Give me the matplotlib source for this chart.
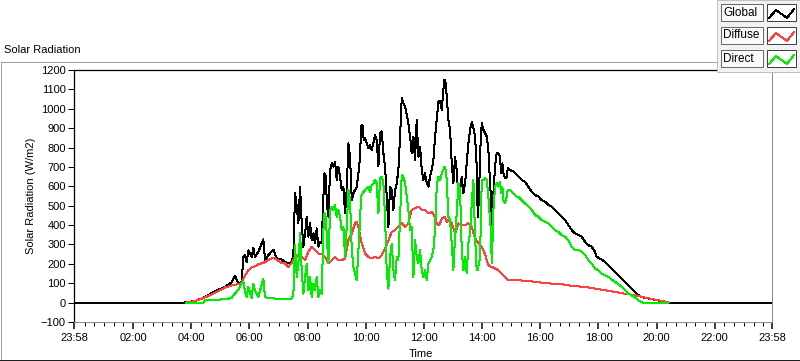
import matplotlib
matplotlib.use("Agg")
import matplotlib.pyplot as plt
from matplotlib.lines import Line2D
from matplotlib.patches import Rectangle

plt.rcParams["font.family"] = ["Liberation Sans", "DejaVu Sans"]
plt.rcParams["font.size"] = 8

# time in minutes after midnight, values in W/m2
t_global = [-2, 225, 247.6, 268.3, 288.9, 309.5, 323.3, 330.2, 337.0, 343.9, 347.4, 350.8, 354.2, 357.7,
            364.6, 368.0, 371.4, 378.3, 388.6, 392.1, 399.0, 409.3, 416.1, 426.5,
            433.4, 440.3, 447.2, 450.6, 454.0, 457.5, 460.9, 464.4, 467.8, 471.2, 474.7, 478.1, 481.5,
            485.0, 488.4, 491.9, 495.3, 498.7, 502.2, 505.6, 509.1, 512.5, 514.6, 517.3, 520.1, 522.8,
            526.3, 529.7, 533.1, 536.6, 540.0, 543.4, 546.9, 550.3, 553.8, 557.2, 560.6, 564.1, 567.5,
            571.0, 574.4, 577.8, 581.3, 584.7, 588.2, 590.2, 593.0, 595.7, 598.5, 601.9, 605.4, 608.8,
            612.2, 615.7, 619.1, 622.5, 626.0, 629.4, 632.9, 636.3,
            639.7, 643.1, 646.6, 650.0, 653.5, 656.9, 660.3, 663.8, 667.2, 670.7, 674.1, 677.5, 681.0,
            684.4, 687.8, 691.3, 694.7, 698.2, 701.6, 705.0, 708.5, 711.9, 715.4, 718.8, 722.2, 725.7,
            729.1, 732.6, 736.0, 739.4, 742.9, 746.3, 749.7, 753.2, 756.6, 760.1, 762.1, 764.9, 766.9,
            770.4, 773.8, 777.3, 780.7, 784.1, 787.6, 791.0, 794.5, 797.9, 801.3, 804.8, 808.2, 811.6,
            815.1, 818.5, 822.0, 825.4, 828.8, 830.9, 833.7, 835.7, 839.2, 842.6,
            846.0, 849.4, 852.9, 856.3, 858.4, 859.8, 861.1, 863.2, 866.6, 870.1, 873.5, 877.0, 879.0,
            881.8, 883.8, 887.3, 890.7, 892.8, 897.6, 904.5, 911.3, 914.8, 921.7, 928.5, 935.4, 942.3,
            949.2, 956.0, 962.9, 969.8, 976.7, 983.6, 990.4, 997.3, 1004.2, 1011.1, 1018.0, 1024.8,
            1031.7, 1038.6, 1045.5, 1052.3, 1059.2, 1066.1, 1072.9, 1076.4, 1083.3, 1093.6, 1100.4,
            1107.3, 1114.2, 1121.1, 1128.0, 1134.8, 1141.7, 1148.6, 1155.5, 1162.4, 1169.2, 1183.0,
            1196.7, 1210.5, 1224.3, 1438]
global_rad = [0, 0, 8, 29, 60, 81, 105, 138, 98, 107, 236, 245, 210, 270,
              236, 284, 236, 262, 326, 219, 245, 274, 228, 222,
              210, 202, 210, 253, 564, 495, 409, 598, 409, 288, 357, 443, 340,
              409, 322, 357, 305, 383, 288, 314, 305, 547, 667, 650, 495, 443,
              684, 719, 702, 728, 633, 702, 650, 581, 598, 460, 581, 822, 753,
              529, 564, 581, 598, 667, 753, 909, 917, 840, 848, 822, 797, 814,
              788, 822, 866, 840, 702, 874, 883, 771,
              702, 547, 391, 598, 581, 478, 581, 616, 684, 857, 1055, 1029, 1012,
              969, 926, 857, 771, 857, 736, 943, 753, 805, 684, 633, 667, 616,
              598, 650, 684, 736, 857, 943, 1038, 1038, 995, 1098, 1150, 1133, 1064,
              943, 891, 719, 616, 753, 684, 547, 581, 650, 564, 616, 719, 822,
              891, 930, 900, 860, 702, 443, 547, 771, 926, 891,
              874, 857, 788, 616, 529, 374, 443, 564, 702, 771, 771, 753, 667,
              719, 667, 641, 650, 693, 684, 676, 659, 650, 633, 624, 598, 572,
              555, 547, 529, 521, 503, 495, 478, 460, 443, 426, 400, 374,
              357, 348, 340, 314, 296, 288, 262, 236, 227, 210, 193,
              176, 158, 141, 124, 107, 90, 72, 55, 38, 29, 21,
              15, 8, 0, 0]

t_diffuse = [229, 247.6, 268.3, 288.9, 309.5, 323.3, 337.0, 343.9, 347.4, 350.8, 354.2, 357.7, 364.6,
             371.4, 378.3, 388.6, 399.0, 409.3, 416.1, 426.5,
             433.4, 440.3, 447.2, 454.0, 460.9, 467.8, 474.7, 481.5, 488.4, 495.3, 502.2, 509.1, 515.9,
             522.8, 529.7, 536.6, 543.4, 550.3, 557.2, 564.1, 571.0, 577.8, 581.3, 584.7, 591.6, 598.5,
             605.4, 612.2, 619.1, 626.0, 632.9,
             639.7, 646.6, 653.5, 660.3, 667.2, 674.1, 681.0, 687.8, 694.7, 701.6, 708.5, 715.4, 722.2,
             729.1, 736.0, 742.9, 746.3, 749.7, 753.2, 756.6, 763.5, 766.9, 770.4, 777.3, 784.1, 791.0,
             797.9, 804.8, 811.6, 818.5, 822.0, 825.4, 832.3, 839.2,
             846.0, 849.4, 852.9, 859.8, 866.6, 873.5, 880.4, 887.3, 894.1, 914.8, 935.4, 962.9, 983.6,
             1004.2, 1024.8, 1052.3, 1072.9, 1093.6, 1114.2, 1134.8, 1155.5, 1176.1, 1196.7, 1217.4,
             1224.3]
diffuse_rad = [0, 8, 27, 50, 78, 88, 95, 100, 124, 141, 153, 167, 181,
               188, 198, 205, 219, 233, 222, 205,
               202, 184, 202, 236, 245, 236, 219, 262, 288, 271, 253, 253, 236,
               202, 219, 236, 219, 219, 228, 322, 357, 409, 417, 391, 305, 253,
               236, 228, 236, 228, 245,
               280, 320, 365, 374, 391, 409, 391, 409, 478, 486, 495, 478, 478,
               460, 469, 443, 409, 400, 409, 434, 443, 417, 426, 409, 357, 409,
               400, 400, 409, 391, 357, 331, 305, 288,
               250, 219, 193, 184, 176, 167, 150, 133, 115, 115, 112, 103, 98,
               95, 86, 81, 72, 64, 55, 46, 38, 26, 15, 5,
               0]

t_direct = [229, 247.6, 264.8, 268.3, 288.9, 309.5, 323.3, 330.2, 337.0, 343.9, 347.4, 350.8, 354.2,
            357.7, 364.6, 368.0, 371.4, 378.3, 388.6, 392.1, 399.0, 409.3, 416.1, 426.5,
            433.4, 447.2, 450.6, 454.0, 457.5, 460.9, 464.4, 467.8, 471.2, 474.7, 478.1, 481.5, 485.0,
            488.4, 491.9, 495.3, 498.7, 502.2, 505.6, 509.1, 512.5, 514.6, 517.3, 520.1, 522.8, 526.3,
            529.7, 533.1, 536.6, 540.0, 543.4, 546.9, 550.3, 553.8, 557.2, 560.6, 564.1, 567.5, 571.0,
            574.4, 577.8, 581.3, 584.7, 588.2, 590.2, 593.0, 595.7, 598.5, 601.9, 605.4, 608.8, 612.2,
            615.7, 619.1, 622.5, 626.0, 629.4, 632.9, 636.3,
            639.7, 643.1, 646.6, 650.0, 653.5, 656.9, 660.3, 663.8, 667.2, 670.7, 674.1, 677.5, 681.0,
            684.4, 687.8, 691.3, 694.7, 698.2, 701.6, 705.0, 708.5, 711.9, 715.4, 718.8, 722.2, 725.7,
            729.1, 732.6, 736.0, 739.4, 742.9, 746.3, 749.7, 753.2, 756.6, 760.1, 762.1, 764.9, 766.9,
            770.4, 773.8, 777.3, 780.7, 784.1, 787.6, 791.0, 794.5, 797.9, 801.3, 804.8, 808.2, 811.6,
            815.1, 818.5, 822.0, 825.4, 828.8, 830.9, 835.7, 839.2, 842.6,
            846.0, 849.4, 852.9, 856.3, 858.4, 859.8, 861.1, 863.2, 866.6, 870.1, 873.5, 877.0, 879.0,
            881.8, 883.8, 887.3, 890.7, 892.8, 897.6, 904.5, 911.3, 914.8, 921.7, 928.5, 935.4, 942.3,
            949.2, 956.0, 962.9, 969.8, 976.7, 983.6, 990.4, 997.3, 1004.2, 1011.1, 1018.0, 1024.8,
            1031.7, 1038.6, 1045.5, 1052.3, 1059.2, 1066.1, 1072.9, 1079.8, 1086.7, 1093.6, 1100.4,
            1107.3, 1114.2, 1121.1, 1128.0, 1134.8, 1141.7, 1148.6, 1155.5, 1162.4, 1172.7, 1189.9,
            1217.4, 1224.3]
direct_rad = [0, 0, 0, 12, 15, 17, 24, 48, 66, 100, 107, 55, 29,
              81, 24, 98, 64, 29, 124, 29, 24, 24, 17, 17,
              21, 21, 46, 296, 133, 202, 357, 167, 46, 133, 202, 64, 133,
              29, 98, 64, 133, 29, 64, 46, 374, 460, 443, 322, 202, 478,
              495, 478, 503, 443, 478, 443, 374, 391, 236, 391, 581, 529, 271,
              184, 150, 115, 271, 426, 547, 564, 572, 581, 590, 598, 572, 607,
              615, 633, 615, 460, 641, 650, 615,
              443, 167, 72, 236, 305, 167, 115, 236, 219, 443, 659, 650, 616,
              547, 478, 374, 391, 133, 322, 236, 202, 271, 167, 133, 167, 115,
              202, 219, 236, 271, 374, 598, 650, 633, 667, 684, 702, 684, 633,
              443, 426, 305, 167, 340, 460, 616, 581, 271, 167, 236, 150, 305,
              357, 512, 633, 340, 167, 167, 236, 633, 633,
              641, 633, 546, 426, 357, 202, 288, 478, 598, 616, 598, 624, 564,
              598, 529, 512, 546, 581, 581, 564, 546, 546, 529, 512, 495, 478,
              452, 443, 426, 417, 409, 391, 374, 365, 348, 340, 322, 288,
              271, 271, 262, 245, 219, 202, 176, 167, 150, 141, 133,
              119, 107, 95, 81, 64, 46, 38, 26, 12, -2, -4,
              -2, 0]

x_ticks = [-2, 120, 240, 360, 480, 600, 720, 840, 960, 1080, 1200, 1320, 1438]
x_labels = ["23:58", "02:00", "04:00", "06:00", "08:00", "10:00", "12:00",
            "14:00", "16:00", "18:00", "20:00", "22:00", "23:58"]
y_ticks = list(range(-100, 1201, 100))

series_names = ["Global", "Diffuse", "Direct"]
series_colors = ["#000000", "#ff4040", "#00ee00"]

W, H = 800, 361
PX = 0.72  # one pixel in points at 100 dpi
fig = plt.figure(figsize=(W / 100, H / 100), dpi=100)


def fx(x):
    return x / W


def fy(y):
    return 1 - y / H


ax = fig.add_axes([fx(74), fy(322), fx(772) - fx(74), fy(70) - fy(322)])
ax.plot(t_global, global_rad, color=series_colors[0], lw=PX, antialiased=False)
ax.plot(t_diffuse, diffuse_rad, color=series_colors[1], lw=PX, antialiased=False)
ax.plot(t_direct, direct_rad, color=series_colors[2], lw=PX, antialiased=False)

ax.set_xlim(-2, 1438)
ax.set_ylim(-100, 1200)
ax.set_xticks(x_ticks)
ax.set_xticklabels(x_labels)
ax.set_xticks([m for m in range(20, 1438, 20) if m % 120 != 0], minor=True)
ax.set_yticks(y_ticks)
ax.tick_params(axis="x", which="major", length=5, width=1.5 * PX, pad=3, labelsize=8)
ax.tick_params(axis="x", which="minor", length=3, width=PX)
ax.tick_params(axis="y", length=4, width=PX, pad=2, labelsize=8)
for side in ["left", "top"]:
    ax.spines[side].set_color("black")
    ax.spines[side].set_linewidth(1.3 * PX)
for side in ["right", "bottom"]:
    ax.spines[side].set_color("#8a8a8a")
    ax.spines[side].set_linewidth(PX)

fig.text(fx(4), fy(50), "Solar Radiation", ha="left", va="center", fontsize=8)
fig.text(fx(31), fy(196), "Solar Radiation (W/m2)", rotation=90, ha="center", va="center", fontsize=8)
fig.text(fx(421), fy(354), "Time", ha="center", va="center", fontsize=8)


# outer frame of the chart control
def fline(xs, ys, color, lw=PX):
    fig.add_artist(Line2D([fx(v) for v in xs], [fy(v) for v in ys], color=color, lw=lw,
                          transform=fig.transFigure, antialiased=False))


fline([0.5, 717], [61.5, 61.5], "#a0a0a0")
fline([0.5, 0.5], [61.5, 359.5], "#a0a0a0")
fline([0, 800], [359.5, 359.5], "#202020")
fline([799.5, 799.5], [72, 360], "#202020")

# legend panel
fig.add_artist(Rectangle((fx(717), fy(72)), fx(83), 72 / H, transform=fig.transFigure,
                         facecolor="#f2f2f2", edgecolor="#c0c0c0", lw=PX))
for i, (name, col) in enumerate(zip(series_names, series_colors)):
    top = 4 + 23 * i
    fig.add_artist(Rectangle((fx(721), fy(top + 17)), fx(42), 17 / H, transform=fig.transFigure,
                             facecolor="#fafafa", edgecolor="#6a6a6a", lw=PX))
    fig.text(fx(723), fy(top + 8.5), name, ha="left", va="center", fontsize=8.5)
    fig.add_artist(Rectangle((fx(767), fy(top + 17)), fx(29), 17 / H, transform=fig.transFigure,
                             facecolor="white", edgecolor="#404040", lw=PX))
    fline([769, 776, 787, 794], [top + 14, top + 6, top + 14, top + 5], col)

fig.savefig("out.png", dpi=100)
